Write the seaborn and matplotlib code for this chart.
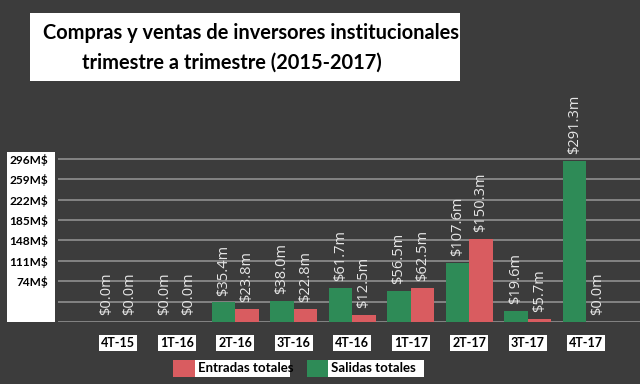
"""Compras y ventas de inversores institucionales - grouped bar chart."""

import matplotlib
matplotlib.use("Agg")
import matplotlib.pyplot as plt
from matplotlib.patches import Rectangle
import pandas as pd
import seaborn as sns

quarters = ["4T-15", "1T-16", "2T-16", "3T-16", "4T-16", "1T-17", "2T-17", "3T-17", "4T-17"]
salidas = [0.0, 0.0, 35.4, 38.0, 61.7, 56.5, 107.6, 19.6, 291.3]
entradas = [0.0, 0.0, 23.8, 22.8, 12.5, 62.5, 150.3, 5.7, 0.0]
series_names = ["Salidas totales", "Entradas totales"]
ytick_values = [0, 37, 74, 111, 148, 185, 222, 259, 296]
ytick_labels = ["", "", "74M$", "111M$", "148M$", "185M$", "222M$", "259M$", "296M$"]
title_lines = ["Compras y ventas de inversores institucionales",
               "trimestre a trimestre (2015-2017)"]

BG = "#3c3c3c"
GREEN = "#2e8b57"
RED = "#d95c60"

df = pd.DataFrame({
    "quarter": quarters * 2,
    "serie": [series_names[0]] * len(quarters) + [series_names[1]] * len(quarters),
    "valor": salidas + entradas,
})

sns.set_theme(style="dark")
plt.rcParams["font.family"] = ["Lato", "DejaVu Sans"]

W, H = 640, 384
fig = plt.figure(figsize=(W / 100, H / 100), dpi=100, facecolor=BG)


def fx(px):
    return px / W


def fy(py):
    return 1 - py / H


def box(x0, y0, x1, y1, color):
    # rectangle in pixel coords (top-left origin), drawn beneath the axes
    fig.patches.append(Rectangle((fx(x0), fy(y1)), fx(x1) - fx(x0), fy(y0) - fy(y1),
                                 transform=fig.transFigure, facecolor=color,
                                 edgecolor="none", zorder=-1))


# axes: baseline at y=322 px, left edge at x=58 px
ax = fig.add_axes([fx(58), fy(322), fx(640) - fx(58), fy(151) - fy(322)])
ax.set_facecolor(BG)

sns.barplot(data=df, x="quarter", y="valor", hue="serie", order=quarters,
            hue_order=series_names, palette=[GREEN, RED], width=0.8,
            saturation=1, linewidth=0, ax=ax, legend=False)

ax.set_ylim(0, 310)
ax.set_xlim(-1.03, 8.92)
ax.set_yticks(ytick_values)
ax.set_yticklabels(ytick_labels, fontsize=8.6, fontweight="bold", color="black")
ax.grid(axis="y", color="#8f8f8f", linewidth=1.2)
ax.grid(axis="x", visible=False)
ax.set_axisbelow(True)
for s in ax.spines.values():
    s.set_visible(False)
ax.tick_params(axis="y", length=0, pad=7)
ax.tick_params(axis="x", length=0, pad=11)
ax.set_xlabel("")
ax.set_ylabel("")

for lab in ax.get_xticklabels():
    lab.set_fontsize(9)
    lab.set_fontweight("bold")
    lab.set_color("black")
    lab.set_bbox(dict(facecolor="white", edgecolor="none", pad=1.5))

# value labels on bars
for cont in ax.containers:
    for bar in cont:
        h = bar.get_height()
        ax.annotate(f"${h:.1f}m", (bar.get_x() + bar.get_width() / 2, h),
                    xytext=(0, 5), textcoords="offset points", rotation=90,
                    ha="center", va="bottom", fontsize=10.5, color="#e6e6e6",
                    family=["Open Sans", "DejaVu Sans"])

# white box behind y tick labels
box(7, 152, 55, 322, "white")

# title box
box(30, 13, 460, 81, "white")
fig.text(fx(251), fy(33), title_lines[0], ha="center", va="center",
         fontsize=14.4, fontweight="bold", color="black")
fig.text(fx(232), fy(63), title_lines[1], ha="center", va="center",
         fontsize=14.4, fontweight="bold", color="black")

# legend
legend_items = [(series_names[1], RED, 173, 195, 290), (series_names[0], GREEN, 307, 328, 424)]
for name, col, x0, x1, x2 in legend_items:
    box(x0, 360, x1, 377, col)
    box(x1, 360, x2, 377, "white")
    fig.text(fx(x1 + 3), fy(368.5), name, ha="left", va="center", fontsize=9.5,
             fontweight="bold", color="black")

fig.savefig("out.png", dpi=100, facecolor=BG)
